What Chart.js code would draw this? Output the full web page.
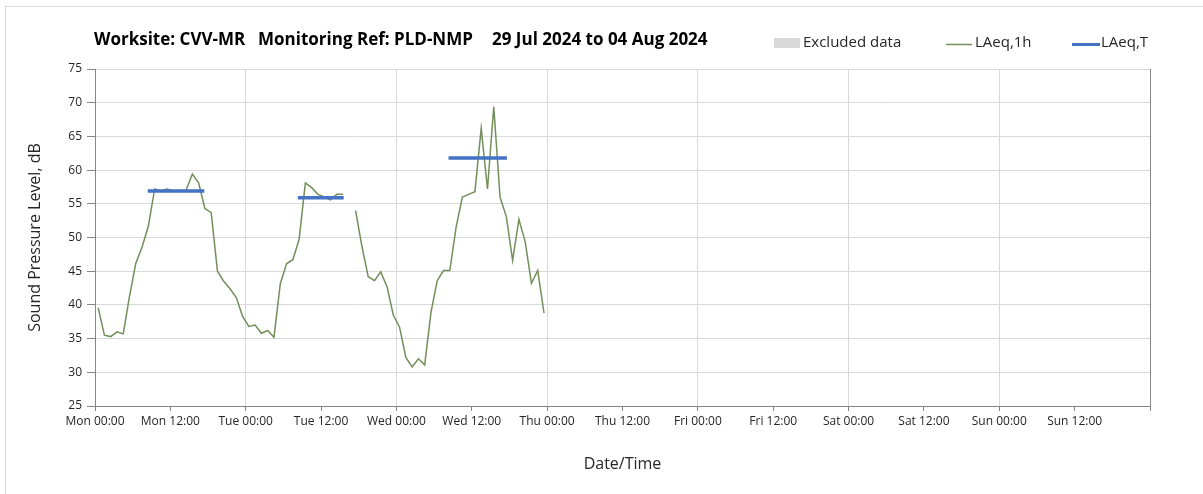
<!DOCTYPE html>
<html>
<head>
<meta charset="utf-8">
<script src="https://cdn.jsdelivr.net/npm/chart.js@4.4.1/dist/chart.umd.min.js"></script>
<style>
html,body{margin:0;padding:0;background:#fff;}
#wrap{position:relative;width:1203px;height:494px;}
</style>
</head>
<body>
<div id="wrap"><canvas id="c" width="1203" height="494"></canvas></div>
<script>
// ---- data ----
const titleParts = ['Worksite: CVV-MR', 'Monitoring Ref: PLD-NMP', '29 Jul 2024 to 04 Aug 2024'];
const legendLabels = ['Excluded data', 'LAeq,1h', 'LAeq,T'];
const xTitle = 'Date/Time';
const yTitle = 'Sound Pressure Level, dB';
const xTickLabels = ['Mon 00:00','Mon 12:00','Tue 00:00','Tue 12:00','Wed 00:00','Wed 12:00',
  'Thu 00:00','Thu 12:00','Fri 00:00','Fri 12:00','Sat 00:00','Sat 12:00','Sun 00:00','Sun 12:00',''];
const yMin = 25, yMax = 75, yStep = 5;
const xMinHour = 0, xMaxHour = 168, xStepHour = 12;
// hourly LAeq,1h values (hour index from Mon 00:00, plotted mid-hour)
const hourlyLevels = [
  39.6, 35.5, 35.3, 36.0, 35.7, 41.3, 46.2, 48.6, 51.7, 57.2, 56.9, 57.2,
  56.9, 56.9, 57.0, 59.4, 58.1, 54.3, 53.7, 45.0, 43.5, 42.4, 41.1, 38.3,
  36.8, 37.0, 35.8, 36.2, 35.2, 43.1, 46.1, 46.7, 49.7, 58.1, 57.4, 56.4,
  56.0, 55.6, 56.4, 56.4, null, 54.0, 48.7, 44.2, 43.6, 44.9, 42.7, 38.5,
  36.7, 32.2, 30.8, 32.0, 31.1, 38.9, 43.6, 45.1, 45.1, 51.5, 56.0, 56.4,
  56.8, 66.2, 57.2, 69.4, 56.0, 53.1, 46.6, 52.7, 49.4, 43.2, 45.1, 38.8
];
// LAeq,T periods
const periodStartHour = [8.4, 32.3, 56.3];
const periodEndHour = [17.4, 39.6, 65.6];
const periodLevels = [56.9, 55.9, 61.8];

// ---- build datasets ----
const hourlyPoints = hourlyLevels.map((v, i) => ({ x: i + 0.5, y: v }));
const periodPoints = [];
periodLevels.forEach((v, i) => {
  if (i > 0) periodPoints.push({ x: (periodEndHour[i-1] + periodStartHour[i]) / 2, y: null });
  periodPoints.push({ x: periodStartHour[i], y: v });
  periodPoints.push({ x: periodEndHour[i], y: v });
});

const GREEN = '#728f5c';
const BLUE = '#4472c4';
const AXIS = '#868686';
const GRID = '#d9d9d9';
const TEXT = '#262626';

const decorPlugin = {
  id: 'decor',
  beforeDraw(chart) {
    const ctx = chart.ctx;
    ctx.save();
    ctx.fillStyle = '#fff';
    ctx.fillRect(0, 0, chart.width, chart.height);
    ctx.strokeStyle = GRID;
    ctx.lineWidth = 1;
    ctx.strokeRect(5.5, 6.5, 1400, 700);
    ctx.restore();
  },
  afterDraw(chart) {
    const ctx = chart.ctx;
    ctx.save();
    // title
    ctx.fillStyle = '#000';
    ctx.font = 'bold 17px "Open Sans"';
    ctx.textBaseline = 'middle';
    ctx.textAlign = 'left';
    const tx = [94, 258, 492];
    titleParts.forEach((t, i) => ctx.fillText(t, tx[i], 40));
    // legend
    ctx.font = '15px "Open Sans"';
    ctx.fillStyle = GRID;
    ctx.fillRect(774, 38, 26, 10);
    ctx.fillStyle = TEXT;
    ctx.fillText(legendLabels[0], 803, 43);
    ctx.strokeStyle = GREEN;
    ctx.lineWidth = 1.5;
    ctx.beginPath(); ctx.moveTo(946, 44.5); ctx.lineTo(972, 44.5); ctx.stroke();
    ctx.fillText(legendLabels[1], 975, 43);
    ctx.strokeStyle = BLUE;
    ctx.lineWidth = 3;
    ctx.beginPath(); ctx.moveTo(1072, 44.5); ctx.lineTo(1100, 44.5); ctx.stroke();
    ctx.fillText(legendLabels[2], 1101, 43);
    ctx.restore();
  }
};

new Chart(document.getElementById('c'), {
  type: 'line',
  data: {
    datasets: [
      {
        label: legendLabels[2],
        data: periodPoints,
        borderColor: BLUE,
        borderWidth: 3.5,
        borderCapStyle: 'butt',
        pointRadius: 0,
        spanGaps: false,
        tension: 0,
        order: 0
      },
      {
        label: legendLabels[1],
        data: hourlyPoints,
        borderColor: GREEN,
        borderWidth: 1.5,
        pointRadius: 0,
        spanGaps: false,
        tension: 0,
        order: 1
      }
    ]
  },
  options: {
    responsive: false,
    animation: false,
    devicePixelRatio: 1,
    layout: { padding: { left: 0, right: 53, top: 69, bottom: 10 } },
    plugins: { legend: { display: false }, tooltip: { enabled: false }, title: { display: false } },
    scales: {
      x: {
        type: 'linear',
        min: xMinHour, max: xMaxHour,
        afterFit(scale) { scale.height = 78; },
        ticks: {
          stepSize: xStepHour,
          autoSkip: false,
          maxRotation: 0,
          padding: 3,
          color: TEXT,
          font: { family: '"Open Sans"', size: 12 },
          callback: (v) => xTickLabels[Math.round(v / xStepHour)] ?? ''
        },
        grid: {
          color: (c) => {
            const v = c.tick ? c.tick.value : -1;
            if (v === xMaxHour) return AXIS;
            if (v > 0 && v % 24 === 0) return GRID;
            return 'rgba(0,0,0,0)';
          },
          lineWidth: 1,
          tickColor: AXIS,
          tickLength: 5,
          drawTicks: true
        },
        border: { color: AXIS, width: 1 },
        title: {
          display: true, text: xTitle, color: TEXT,
          font: { family: '"Open Sans"', size: 16 },
          padding: { top: 0, bottom: 10 }
        }
      },
      y: {
        min: yMin, max: yMax,
        afterFit(scale) { scale.width = 95; },
        ticks: {
          stepSize: yStep,
          padding: 5,
          color: TEXT,
          font: { family: '"Open Sans"', size: 12 }
        },
        grid: { color: GRID, lineWidth: 1, tickColor: AXIS, tickLength: 8 },
        border: { color: AXIS, width: 1 },
        title: {
          display: true, text: yTitle, color: TEXT,
          font: { family: '"Open Sans"', size: 16 },
          padding: { top: 26, bottom: 0 }
        }
      }
    }
  },
  plugins: [decorPlugin]
});
</script>
</body>
</html>
